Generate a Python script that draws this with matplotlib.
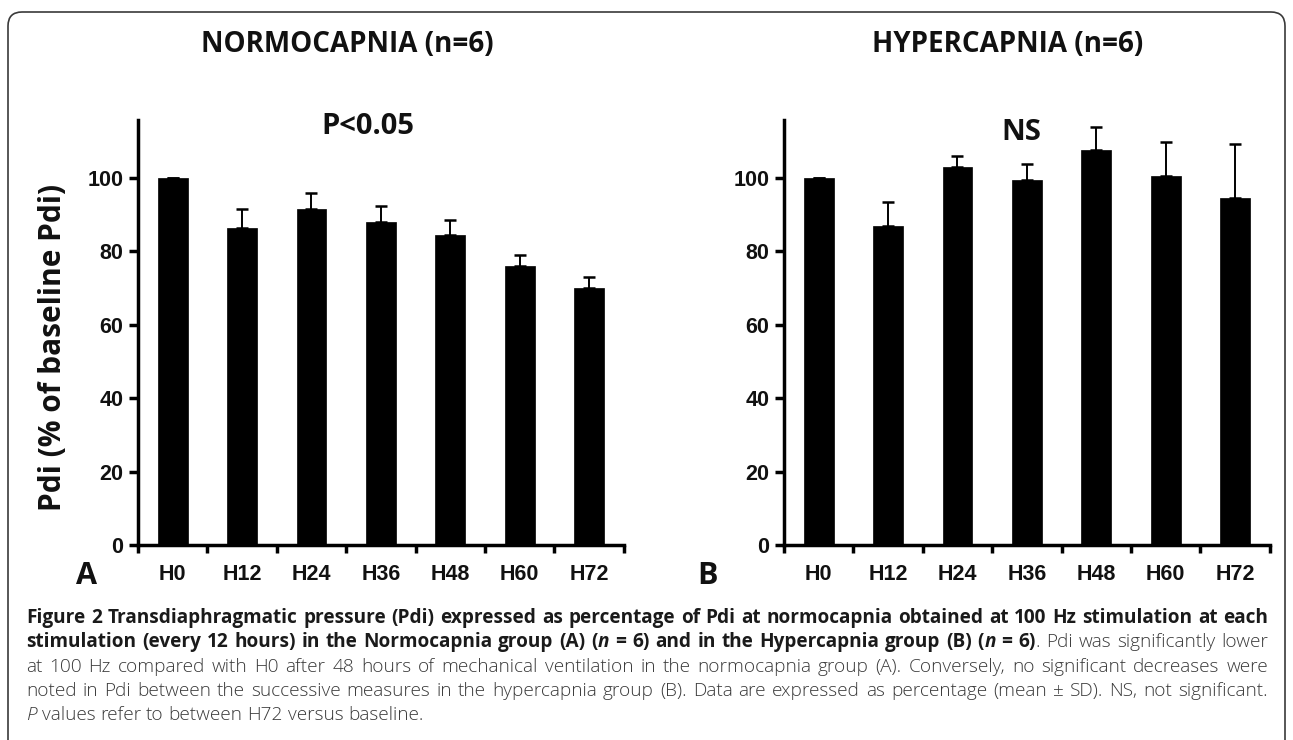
import numpy as np
import matplotlib
matplotlib.use("Agg")
import matplotlib.pyplot as plt
from matplotlib.patches import FancyBboxPatch

# values (% of baseline Pdi, mean and SD)
times = ["H0", "H12", "H24", "H36", "H48", "H60", "H72"]
normo_mean = [100, 86.5, 91.5, 88, 84.5, 76, 70]
normo_sd = [0, 5, 4.5, 4.5, 4, 3, 3]
hyper_mean = [100, 87, 103, 99.5, 107.5, 100.5, 94.5]
hyper_sd = [0, 6.5, 3, 4.3, 6.4, 9.3, 14.7]

W, H = 1293, 740
fig = plt.figure(figsize=(W / 100, H / 100), dpi=100)
fig.patch.set_facecolor("white")

# rounded frame round the whole figure (open at the bottom)
frame = FancyBboxPatch((8, -40), W - 16, H - 12 + 40, boxstyle="round,pad=0,rounding_size=14",
                       transform=None, fill=False, edgecolor="#3a3a3a", linewidth=1.2)
fig.patches.append(frame)

tick_family = ["Liberation Sans", "DejaVu Sans"]
head_font = dict(family=["Open Sans", "DejaVu Sans"], weight="bold", color="#111111")


def px(x, y):
    # pixel position (from top left) -> figure fraction
    return x / W, 1 - y / H


def panel(left_px, means, sds, title, title_x, stat, stat_x, stat_y, letter, letter_x):
    ax = fig.add_axes([left_px / W, (H - 545) / H, 485.7 / W, 425 / H])
    x = np.arange(len(times))
    ax.errorbar(x, means, yerr=[np.zeros(len(sds)), sds], fmt="none", ecolor="black",
                elinewidth=1.4, capsize=4.3, capthick=1.8, zorder=1)
    ax.bar(x, means, width=0.43, color="black", edgecolor="black", linewidth=0.5, zorder=2)
    ax.set_xlim(-0.5, 6.5)
    ax.set_ylim(0, 115.8)
    for s in ["top", "right"]:
        ax.spines[s].set_visible(False)
    for s in ["left", "bottom"]:
        ax.spines[s].set_linewidth(2.5)
    ax.set_yticks([0, 20, 40, 60, 80, 100])
    ax.tick_params(axis="y", length=6.5, width=2.5, pad=4)
    ax.set_xticks(x)
    ax.set_xticks(np.arange(-0.5, 7, 1), minor=True)
    ax.set_xticklabels(times)
    ax.tick_params(axis="x", which="major", length=0, pad=14)
    ax.tick_params(axis="x", which="minor", length=6, width=2.5)
    for lab in ax.get_xticklabels() + ax.get_yticklabels():
        lab.set_fontfamily(tick_family)
        lab.set_fontweight("bold")
        lab.set_fontsize(15.5)
        lab.set_color("#111111")
    fig.text(*px(title_x, 45), title, ha="center", va="center", size=20, **head_font)
    fig.text(*px(stat_x, stat_y), stat, ha="center", va="center", size=21, **head_font)
    fig.text(*px(letter_x, 576), letter, ha="center", va="center", size=22, **head_font)
    return ax


panel(138, normo_mean, normo_sd, "NORMOCAPNIA (n=6)", 347, "P<0.05", 368, 127, "A", 87)
panel(784, hyper_mean, hyper_sd, "HYPERCAPNIA (n=6)", 1008, "NS", 1021, 132, "B", 708)

fig.text(*px(53, 347), "Pdi (% of baseline Pdi)", rotation=90, ha="center", va="center",
         size=21.5, **head_font)

# caption, justified line by line
cap_lines = [
    [("Figure 2 Transdiaphragmatic pressure (Pdi) expressed as percentage of Pdi at normocapnia "
      "obtained at 100 Hz stimulation at each", "b")],
    [("stimulation (every 12 hours) in the Normocapnia group (A) (", "b"), ("n", "bi"),
     (" = 6) and in the Hypercapnia group (B) (", "b"), ("n", "bi"), (" = 6)", "b"),
     (". Pdi was significantly lower", "r")],
    [("at 100 Hz compared with H0 after 48 hours of mechanical ventilation in the normocapnia "
      "group (A). Conversely, no significant decreases were", "r")],
    [("noted in Pdi between the successive measures in the hypercapnia group (B). Data are "
      "expressed as percentage (mean \u00b1 SD). NS, not significant.", "r")],
    [("P", "i"), (" values refer to between H72 versus baseline.", "r")],
]
styles = {
    "b": dict(weight="bold", style="normal", color="#1a1a1a"),
    "bi": dict(weight="bold", style="italic", color="#1a1a1a"),
    "r": dict(weight="light", style="normal", color="#3a3a3a"),
    "i": dict(weight="light", style="italic", color="#3a3a3a"),
}
cap_left, cap_right = 26, 1268
cap_family = ["Open Sans", "DejaVu Sans"]

renderer = fig.canvas.get_renderer()


def words_of(runs):
    words = [[]]
    for text, st in runs:
        parts = text.split(" ")
        for k, p in enumerate(parts):
            if k > 0:
                words.append([])
            if p:
                words[-1].append((p, st))
    return [w for w in words if w]


def piece_width(s, st, size):
    t = fig.text(0, 0, s, family=cap_family, size=size, **styles[st])
    w = t.get_window_extent(renderer).width
    t.remove()
    return w


# pick the size at which the first (all bold) line fills the width with normal spaces
first = words_of(cap_lines[0])
nat = sum(piece_width(p, st, 10) for w in first for p, st in w)
nat += (len(first) - 1) * (piece_width("a a", "b", 10) - piece_width("aa", "b", 10))
cap_size = 10 * (cap_right - cap_left) / nat * 0.99

space_w = piece_width("a a", "r", cap_size) - piece_width("aa", "r", cap_size)
for i, runs in enumerate(cap_lines):
    words = words_of(runs)
    widths = [[piece_width(p, st, cap_size) for p, st in w] for w in words]
    total = sum(sum(ws) for ws in widths)
    last = i == len(cap_lines) - 1
    gap = space_w if last else (cap_right - cap_left - total) / (len(words) - 1)
    xc = cap_left
    base = 623 + 24.3 * i
    for w, ws in zip(words, widths):
        for (p, st), pw in zip(w, ws):
            fig.text(xc / W, 1 - base / H, p, family=cap_family, size=cap_size,
                     va="baseline", ha="left", **styles[st])
            xc += pw
        xc += gap

fig.savefig("out.png", dpi=100)
